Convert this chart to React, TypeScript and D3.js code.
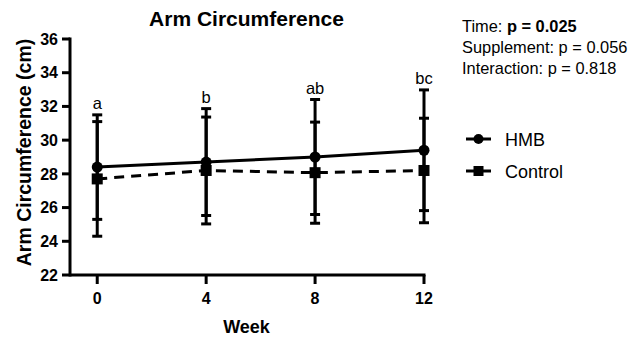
import React from "react";
import * as d3 from "d3";

// Arm circumference (cm), mean ± SD by week
const weeks = [0, 4, 8, 12];
const hmbMean = [28.4, 28.7, 29.0, 29.4];
const hmbSD = [3.1, 3.17, 3.41, 3.58];
const controlMean = [27.7, 28.2, 28.07, 28.2];
const controlSD = [3.4, 3.17, 3.0, 3.1];
const sigLetters = ["a", "b", "ab", "bc"];
const yTicks = [22, 24, 26, 28, 30, 32, 34, 36];
const xTicks = [0, 4, 8, 12];
const statLines = [
  { label: "Time: ", value: "p = 0.025", bold: true },
  { label: "Supplement: ", value: "p = 0.056", bold: false },
  { label: "Interaction: ", value: "p = 0.818", bold: false },
];

const W = 633;
const H = 339;
const FONT = "'Liberation Sans', Arial, Helvetica, sans-serif";

export default function App() {
  const x = d3.scaleLinear().domain([-1, 12]).range([70, 424]);
  const y = d3.scaleLinear().domain([22, 36]).range([275, 39]);

  const line = d3
    .line<number>()
    .x((_, i) => x(weeks[i]))
    .y((v) => y(v));

  const capW = 5;
  const errorBars = (means: number[], sds: number[], key: string) =>
    means.map((m, i) => {
      const cx = x(weeks[i]);
      const top = y(m + sds[i]);
      const bot = y(m - sds[i]);
      return (
        <g key={`${key}-${i}`} stroke="#000" strokeWidth={3}>
          <line x1={cx} x2={cx} y1={top} y2={bot} />
          <line x1={cx - capW} x2={cx + capW} y1={top} y2={top} />
          <line x1={cx - capW} x2={cx + capW} y1={bot} y2={bot} />
        </g>
      );
    });

  return (
    <svg
      width={W}
      height={H}
      style={{ position: "absolute", left: 0, top: 0, background: "#fff" }}
      fontFamily={FONT}
    >
      {/* title */}
      <text x={246.5} y={26} textAnchor="middle" fontSize={21} fontWeight="bold">
        Arm Circumference
      </text>

      {/* y axis */}
      <line x1={70} x2={70} y1={y(36) - 1.5} y2={y(22) + 1.5} stroke="#000" strokeWidth={3} />
      {yTicks.map((t) => (
        <g key={`yt${t}`}>
          <line x1={62} x2={70} y1={y(t)} y2={y(t)} stroke="#000" strokeWidth={3} />
          <text x={58} y={y(t)} dy="0.36em" textAnchor="end" fontSize={16} fontWeight="bold">
            {t}
          </text>
        </g>
      ))}
      <text
        transform={`translate(31,${152.5}) rotate(-90)`}
        textAnchor="middle"
        fontSize={19.5}
        fontWeight="bold"
      >
        Arm Circumference (cm)
      </text>

      {/* x axis */}
      <line x1={70} x2={x(12) + 1.5} y1={275} y2={275} stroke="#000" strokeWidth={3} />
      {xTicks.map((t) => (
        <g key={`xt${t}`}>
          <line x1={x(t)} x2={x(t)} y1={275} y2={284} stroke="#000" strokeWidth={3} />
          <text x={x(t)} y={304} textAnchor="middle" fontSize={16} fontWeight="bold">
            {t}
          </text>
        </g>
      ))}
      <text x={246.5} y={333} textAnchor="middle" fontSize={18} fontWeight="bold">
        Week
      </text>

      {/* error bars */}
      {errorBars(controlMean, controlSD, "c")}
      {errorBars(hmbMean, hmbSD, "h")}

      {/* series lines */}
      <path d={line(controlMean) ?? ""} fill="none" stroke="#000" strokeWidth={3} strokeDasharray="10,7" />
      <path d={line(hmbMean) ?? ""} fill="none" stroke="#000" strokeWidth={3} />

      {/* markers */}
      {controlMean.map((m, i) => (
        <rect key={`cs${i}`} x={x(weeks[i]) - 5.5} y={y(m) - 5.5} width={11} height={11} fill="#000" />
      ))}
      {hmbMean.map((m, i) => (
        <circle key={`hc${i}`} cx={x(weeks[i])} cy={y(m)} r={5.5} fill="#000" />
      ))}

      {/* significance letters */}
      {sigLetters.map((s, i) => {
        const top = Math.max(hmbMean[i] + hmbSD[i], controlMean[i] + controlSD[i]);
        return (
          <text key={`sl${i}`} x={x(weeks[i])} y={y(top) - 6} textAnchor="middle" fontSize={16.5}>
            {s}
          </text>
        );
      })}

      {/* statistics */}
      {statLines.map((s, i) => (
        <text key={`st${i}`} x={462} y={32 + i * 21} fontSize={16.4}>
          {s.label}
          <tspan fontWeight={s.bold ? "bold" : "normal"}>{s.value}</tspan>
        </text>
      ))}

      {/* legend */}
      <g>
        <line x1={466} x2={491} y1={139} y2={139} stroke="#000" strokeWidth={3} />
        <circle cx={478.5} cy={139} r={5} fill="#000" />
        <text x={505} y={145.5} fontSize={18}>HMB</text>
        <line x1={466} x2={491} y1={171} y2={171} stroke="#000" strokeWidth={3} />
        <rect x={473.5} y={166} width={10} height={10} fill="#000" />
        <text x={505} y={177.5} fontSize={18}>Control</text>
      </g>
    </svg>
  );
}
